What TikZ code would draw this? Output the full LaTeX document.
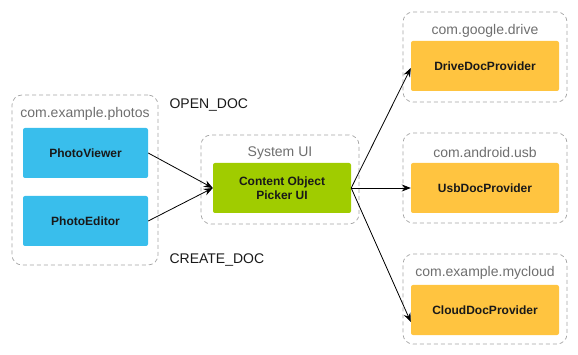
\documentclass[tikz,border=0pt]{standalone}
\usepackage{fontspec}
\setmainfont{Liberation Sans}
\usepackage{tikz}
\usetikzlibrary{arrows.meta}
\definecolor{holoblue}{RGB}{57,190,236}
\definecolor{hologreen}{RGB}{160,204,0}
\definecolor{holoorange}{RGB}{255,196,64}
\definecolor{frameline}{RGB}{165,165,165}
\definecolor{pkgtext}{RGB}{110,110,110}
\definecolor{inktext}{RGB}{25,25,25}

\tikzset{
  groupbox/.style={draw=frameline,dash pattern=on 4pt off 3pt,rounded corners=10pt,line width=0.7pt,inner sep=0pt},
  compbox/.style={rounded corners=2pt,inner sep=0pt,minimum height=50pt,text=inktext,font=\fontsize{12}{14.5}\selectfont\bfseries,align=center},
  pkglabel/.style={text=pkgtext,font=\fontsize{14}{16}\selectfont},
  intentlabel/.style={text=inktext,font=\fontsize{14}{16}\selectfont,anchor=west},
  callarrow/.style={-{Stealth[length=9pt,width=7pt]},line width=0.8pt}
}

\begin{document}
\begin{tikzpicture}[x=1pt,y=-1pt]
\useasboundingbox (0,0) rectangle (578,355);
% client app
\node[groupbox,minimum width=146pt,minimum height=170pt] (photos) at (85,180) {};
\node[pkglabel] (photoslbl) at (85,114) {com.example.photos};
\node[compbox,fill=holoblue,minimum width=125pt] (viewer) at (85.5,153) {PhotoViewer};
\node[compbox,fill=holoblue,minimum width=125pt] (editor) at (85.5,221) {PhotoEditor};
% picker
\node[groupbox,minimum width=158pt,minimum height=89pt] (sysui) at (280,179.5) {};
\node[pkglabel] (sysuilbl) at (280,153) {System UI};
\node[compbox,fill=hologreen,minimum width=138pt] (picker) at (282,188) {Content Object\\Picker UI};
% providers
\node[groupbox,minimum width=164pt,minimum height=90pt] (drivegrp) at (485,57) {};
\node[pkglabel] (drivelbl) at (485,31) {com.google.drive};
\node[compbox,fill=holoorange,minimum width=148pt] (drive) at (485,66) {DriveDocProvider};
\node[groupbox,minimum width=164pt,minimum height=90pt] (usbgrp) at (485,178) {};
\node[pkglabel] (usblbl) at (485,152) {com.android.usb};
\node[compbox,fill=holoorange,minimum width=148pt] (usb) at (485,188) {UsbDocProvider};
\node[groupbox,minimum width=164pt,minimum height=90pt] (cloudgrp) at (485,299) {};
\node[pkglabel] (cloudlbl) at (485,273) {com.example.mycloud};
\node[compbox,fill=holoorange,minimum width=148pt] (cloud) at (485,310) {CloudDocProvider};
% intents
\node[intentlabel] (opendoc) at (166,105) {OPEN\_DOC};
\node[intentlabel] (createdoc) at (166,260) {CREATE\_DOC};
\draw[callarrow] (viewer.east) -- (picker.west);
\draw[callarrow] (editor.east) -- (picker.west);
\draw[callarrow] (picker.east) -- ([yshift=-2pt]drive.west);
\draw[callarrow] (picker.east) -- (usb.west);
\draw[callarrow] (picker.east) -- ([yshift=-12pt]cloud.west);
\end{tikzpicture}
\end{document}
